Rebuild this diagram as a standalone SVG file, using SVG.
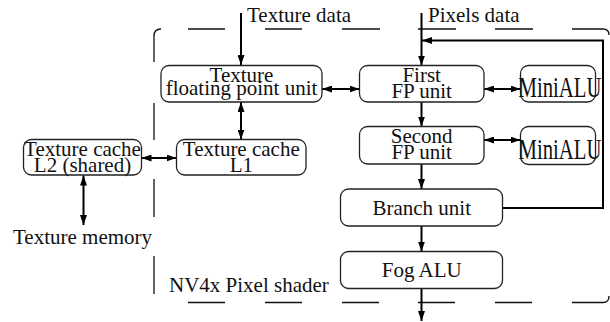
<svg xmlns="http://www.w3.org/2000/svg" width="610" height="322" viewBox="0 0 610 322" font-family="Liberation Serif, DejaVu Serif, serif">
<style>
text{font-family:'Liberation Serif','Times New Roman','DejaVu Serif',serif;font-size:21px;fill:#111}
.c{text-anchor:middle}
.box{fill:#fff;stroke:#222;stroke-width:1.3}
.ar{fill:none;stroke:#000;stroke-width:2}
.bd{fill:none;stroke:#111;stroke-width:1.3}
.mini{font-size:30px}
</style>
<defs>
<marker id="ah" viewBox="0 0 10 7" refX="10" refY="3.5" markerWidth="10" markerHeight="7" markerUnits="userSpaceOnUse" orient="auto-start-reverse">
<path d="M0,0 L10,3.5 L0,7 z" fill="#000"/>
</marker>
</defs>
<g id="border">
<path class="bd" d="M154,62 V36 Q154,29 161,29 M188,29 H225 M265,29 H302 M342,29 H380 M418,29 H456 M495,29 H533 M572,29 H603 Q609,29 609,35 M154,103 V140 M154,179 V217 M154,256 V294 M188,302.5 H225 M265,302.5 H302 M342,302.5 H379 M418,302.5 H455 M495,302.5 H532 M572,302.5 H603 Q609,302.5 609,296"/>
<text x="169" y="292">NV4x Pixel shader</text>
</g>
<g id="connectors">
<path class="ar" d="M241,13 V65" marker-end="url(#ah)"/>
<path class="ar" d="M421.5,13 V65.5" marker-end="url(#ah)"/>
<path class="ar" d="M322,89 H359.5" marker-start="url(#ah)" marker-end="url(#ah)"/>
<path class="ar" d="M484,89 H520.5" marker-start="url(#ah)" marker-end="url(#ah)"/>
<path class="ar" d="M484,140 H520.5" marker-start="url(#ah)" marker-end="url(#ah)"/>
<path class="ar" d="M421.5,102 V126.5" marker-end="url(#ah)"/>
<path class="ar" d="M421.5,164 V189" marker-end="url(#ah)"/>
<path class="ar" d="M421.5,226 V251.5" marker-end="url(#ah)"/>
<path class="ar" d="M421.5,288.5 V321" marker-end="url(#ah)"/>
<path class="ar" d="M241,102 V139.5" marker-start="url(#ah)" marker-end="url(#ah)"/>
<path class="ar" d="M141.5,158 H176.5" marker-start="url(#ah)" marker-end="url(#ah)"/>
<path class="ar" d="M83.5,175.5 V225" marker-start="url(#ah)" marker-end="url(#ah)"/>
<path class="ar" d="M502.5,208 H603 V40.5 H422" marker-end="url(#ah)"/>
</g>
<g id="texture-data"><text x="247" y="21.5">Texture data</text></g>
<g id="pixels-data"><text x="428" y="21.5">Pixels data</text></g>
<g id="tfpu">
<rect class="box" x="161" y="65.5" width="161" height="36.5" rx="8"/>
<text class="c" x="241.5" y="81.5">Texture</text>
<text class="c" x="241.5" y="94.5">floating point unit</text>
</g>
<g id="first-fp">
<rect class="box" x="359.5" y="65.5" width="124.5" height="36.5" rx="8"/>
<text class="c" x="421.7" y="81.5">First</text>
<text class="c" x="421.7" y="98">FP unit</text>
</g>
<g id="minialu1">
<rect class="box" x="520.5" y="65.5" width="75" height="36.5" rx="8"/>
<text class="c mini" x="560" y="97" textLength="83" lengthAdjust="spacingAndGlyphs">MiniALU</text>
</g>
<g id="second-fp">
<rect class="box" x="359.5" y="126.5" width="124.5" height="37.5" rx="8"/>
<text class="c" x="421.7" y="142.5">Second</text>
<text class="c" x="421.7" y="159">FP unit</text>
</g>
<g id="minialu2">
<rect class="box" x="520.5" y="126.5" width="75" height="38" rx="8"/>
<text class="c mini" x="560" y="158.5" textLength="83" lengthAdjust="spacingAndGlyphs">MiniALU</text>
</g>
<g id="branch">
<rect class="box" x="340.5" y="189" width="162" height="37" rx="8"/>
<text class="c" x="421.7" y="215">Branch unit</text>
</g>
<g id="fog">
<rect class="box" x="340.5" y="251.5" width="162" height="37" rx="8"/>
<text class="c" x="421.7" y="277">Fog ALU</text>
</g>
<g id="l2">
<rect class="box" x="23.5" y="139.5" width="118" height="35.5" rx="8"/>
<text class="c" x="82.5" y="156">Texture cache</text>
<text class="c" x="82.5" y="171.5">L2 (shared)</text>
</g>
<g id="l1">
<rect class="box" x="176.5" y="139.5" width="129.5" height="35.5" rx="8"/>
<text class="c" x="241.3" y="156">Texture cache</text>
<text class="c" x="241.3" y="171.5">L1</text>
</g>
<g id="texture-memory"><text x="13" y="243.5">Texture memory</text></g>
</svg>
